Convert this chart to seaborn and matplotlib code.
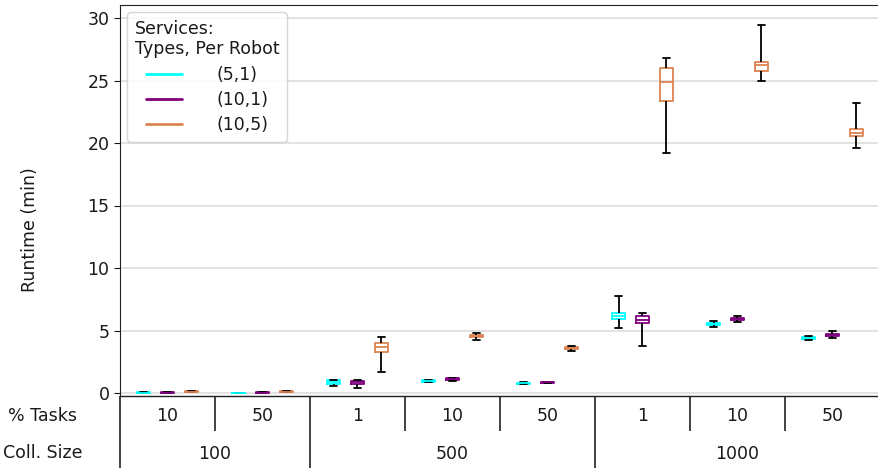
import matplotlib
matplotlib.use("Agg")
import matplotlib.pyplot as plt
from matplotlib.lines import Line2D
import numpy as np
import pandas as pd
import seaborn as sns

# groups along x: (collection size, % tasks)
coll_sizes = ["100", "100", "500", "500", "500", "1000", "1000", "1000"]
pct_tasks = ["10", "50", "1", "10", "50", "1", "10", "50"]
services = ["(5,1)", "(10,1)", "(10,5)"]
colors = ["cyan", "purple", "#dd8452"]

# five-number summaries: whisker low, q1, median, q3, whisker high
runtime_5_1 = [
    [0.01, 0.02, 0.03, 0.05, 0.06],
    [0.00, 0.01, 0.02, 0.03, 0.04],
    [0.58, 0.76, 0.90, 1.03, 1.05],
    [0.86, 0.90, 0.97, 1.04, 1.07],
    [0.70, 0.74, 0.78, 0.84, 0.87],
    [5.20, 5.90, 6.13, 6.42, 7.76],
    [5.25, 5.45, 5.52, 5.62, 5.76],
    [4.24, 4.33, 4.38, 4.45, 4.58],
]
runtime_10_1 = [
    [0.01, 0.03, 0.04, 0.06, 0.07],
    [0.01, 0.02, 0.03, 0.05, 0.06],
    [0.37, 0.72, 0.85, 1.00, 1.04],
    [0.98, 1.05, 1.10, 1.17, 1.20],
    [0.78, 0.82, 0.86, 0.88, 0.90],
    [3.78, 5.62, 5.87, 6.19, 6.40],
    [5.65, 5.85, 5.93, 6.02, 6.19],
    [4.37, 4.55, 4.64, 4.75, 4.98],
]
runtime_10_5 = [
    [0.05, 0.08, 0.12, 0.16, 0.19],
    [0.05, 0.07, 0.10, 0.13, 0.15],
    [1.70, 3.30, 3.70, 4.00, 4.50],
    [4.24, 4.45, 4.56, 4.65, 4.80],
    [3.36, 3.52, 3.60, 3.68, 3.78],
    [19.22, 23.33, 24.85, 25.97, 26.77],
    [24.96, 25.80, 26.25, 26.50, 29.44],
    [19.62, 20.56, 20.80, 21.09, 23.17],
]


def df_construct():
    rows = []
    for svc, runs in zip(services, [runtime_5_1, runtime_10_1, runtime_10_5]):
        for cs, pt, vals in zip(coll_sizes, pct_tasks, runs):
            for v in vals:
                rows.append({"group": cs + "-" + pt, "service": svc, "runtime": v})
    return pd.DataFrame(rows)


df = df_construct()
order = [cs + "-" + pt for cs, pt in zip(coll_sizes, pct_tasks)]
fs = 12.5

sns.set_style("ticks")
plt.rcParams["font.family"] = ["DejaVu Sans"]
plt.rcParams["text.color"] = "#1a1a1a"

fig = plt.figure(figsize=(8.79, 4.68), dpi=100)
ax = fig.add_axes([120 / 879, 72 / 468, 760 / 879, 391 / 468])

sns.boxplot(data=df, x="group", y="runtime", hue="service", order=order,
            hue_order=services, palette=colors, fill=False, width=0.75, gap=0.45,
            whis=(0, 100), linewidth=1.3, legend=False, ax=ax,
            whiskerprops=dict(color="black"), capprops=dict(color="black"))

ax.set_xlim(-0.5, 7.5)
ax.set_ylim(-0.24, 31.04)
ax.set_yticks([0, 5, 10, 15, 20, 25, 30])
ax.yaxis.grid(True, color="#dddddd", lw=1.2)
ax.set_axisbelow(True)
for s in ["left", "top", "bottom"]:
    ax.spines[s].set_visible(True)
    ax.spines[s].set_color("#222222")
ax.tick_params(axis="y", labelsize=fs, length=4, colors="#1a1a1a")
ax.set_xlabel("")
ax.set_ylabel("")

# % tasks labels
ax.set_xticks(range(8), pct_tasks)
ax.tick_params(axis="x", length=0, pad=8, labelsize=fs, colors="#1a1a1a")

# separators between task groups
sec1 = ax.secondary_xaxis("bottom")
sec1.set_xticks([0.5, 2.5, 3.5, 5.5, 6.5], [])
sec1.tick_params(axis="x", length=25, width=1.2, direction="out", colors="#222222")
# separators between collection sizes
sec2 = ax.secondary_xaxis("bottom")
sec2.set_xticks([-0.5, 1.5, 4.5, 7.5], [])
sec2.tick_params(axis="x", length=55, width=1.2, direction="out", colors="#222222")
# collection size labels
sec3 = ax.secondary_xaxis("bottom")
sec3.set_xticks([0.5, 3, 6], ["100", "500", "1000"])
sec3.tick_params(axis="x", length=0, pad=35, labelsize=fs, colors="#1a1a1a")

fig.text(43 / 879, 1 - 416 / 468, "% Tasks", ha="center", va="center", fontsize=fs)
fig.text(43 / 879, 1 - 453 / 468, "Coll. Size", ha="center", va="center", fontsize=fs)
fig.text(30 / 879, 1 - 230 / 468, "Runtime (min)", ha="center", va="center",
         rotation=90, fontsize=fs)

handles = [Line2D([], [], color=c, lw=2) for c in colors]
ax.legend(handles, services, title="Services:\nTypes, Per Robot", loc="upper left",
          fontsize=fs, title_fontsize=fs, handlelength=2.07, handletextpad=2.0,
          labelspacing=0.42, borderpad=0.42, borderaxespad=0.42,
          framealpha=0.8, edgecolor="#cccccc", fancybox=True)

fig.savefig("out.png", dpi=100)
